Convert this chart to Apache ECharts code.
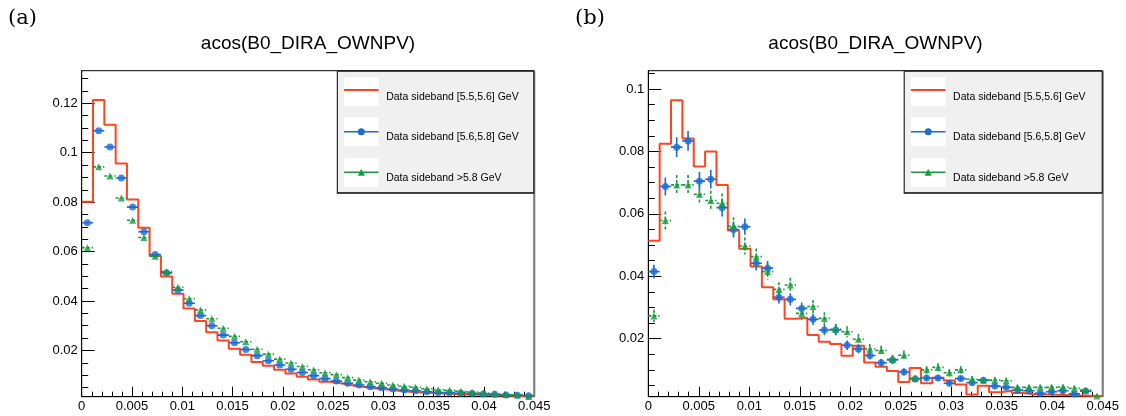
<!DOCTYPE html>
<html>
<head>
<meta charset="utf-8">
<script src="https://cdn.jsdelivr.net/npm/echarts@6/dist/echarts.min.js"></script>
<style>
html,body{margin:0;padding:0;background:#fff;}
#chart{width:1126px;height:416px;}
</style>
</head>
<body>
<div id="chart"></div>
<script>
// ---------------- data ----------------
const NBINS = 40;
const XMIN = 0;
const XMAX = 0.045;
const titleText = 'acos(B0_DIRA_OWNPV)';
const panelLabels = ['(a)', '(b)'];
const legendNames = ['Data sideband [5.5,5.6] GeV', 'Data sideband [5.6,5.8] GeV', 'Data sideband >5.8 GeV'];
const xTickStep = 0.005;
const yTicksA = [0.02, 0.04, 0.06, 0.08, 0.1, 0.12];
const yTicksB = [0.02, 0.04, 0.06, 0.08, 0.1];
const yRangeA = [0.00128, 0.1332];
const yRangeB = [0.0014, 0.1059];

// panel (a)
const redA = [0.0802, 0.1213, 0.1113, 0.0956, 0.0811, 0.0696, 0.0582, 0.0499, 0.0429, 0.0370,
              0.0319, 0.0274, 0.0240, 0.0207, 0.0183, 0.0153, 0.0138, 0.0122, 0.0107, 0.0094,
              0.0082, 0.0073, 0.0066, 0.0058, 0.0052, 0.0046, 0.0042, 0.0037, 0.0033, 0.0030,
              0.0028, 0.0026, 0.0024, 0.0022, 0.0021, 0.0019, 0.0018, 0.0017, 0.0016, 0.0015];
const blueA = [0.0717, 0.1089, 0.1023, 0.0898, 0.0780, 0.0680, 0.0588, 0.0514, 0.0444, 0.0391,
               0.0341, 0.0300, 0.0262, 0.0231, 0.0204, 0.0179, 0.0158, 0.0141, 0.0124, 0.0111,
               0.0098, 0.0086, 0.0076, 0.0067, 0.0060, 0.0053, 0.0049, 0.0044, 0.0040, 0.0037,
               0.0033, 0.0030, 0.0029, 0.0027, 0.0026, 0.0024, 0.0023, 0.0020, 0.0019, 0.0017];
const greenA = [0.0616, 0.0943, 0.0906, 0.0817, 0.0727, 0.0657, 0.0581, 0.0519, 0.0456, 0.0409,
                0.0364, 0.0328, 0.0290, 0.0257, 0.0235, 0.0205, 0.0185, 0.0165, 0.0149, 0.0135,
                0.0122, 0.0110, 0.0102, 0.0090, 0.0080, 0.0073, 0.0067, 0.0060, 0.0055, 0.0051,
                0.0045, 0.0041, 0.0039, 0.0035, 0.0032, 0.0028, 0.0025, 0.0022, 0.0020, 0.0014];

// panel (b)
const redB = [0.0514, 0.0825, 0.0964, 0.0842, 0.0752, 0.0800, 0.0693, 0.0547, 0.0488, 0.0431,
              0.0365, 0.0326, 0.0264, 0.0267, 0.0212, 0.0190, 0.0183, 0.0145, 0.0177, 0.0124,
              0.0110, 0.0096, 0.0061, 0.0106, 0.0057, 0.0075, 0.0066, 0.0053, 0.0021, 0.0049,
              0.0028, 0.0033, 0.0026, 0.0022, 0.0021, 0.0020, 0.0019, 0.0018, 0.0017, 0.0016];
const blueB = [0.0415, 0.0688, 0.0814, 0.0834, 0.0705, 0.0711, 0.0620, 0.0550, 0.0559, 0.0442,
               0.0426, 0.0333, 0.0326, 0.0297, 0.0262, 0.0228, 0.0228, 0.0179, 0.0167, 0.0146,
               0.0123, 0.0132, 0.0093, 0.0071, 0.0074, 0.0074, 0.0057, 0.0072, 0.0059, 0.0067,
               0.0048, 0.0044, 0.0035, 0.0033, 0.0025, 0.0030, 0.0033, 0.0023, 0.0032, 0.0009];
const blueErrB = [0.0022, 0.0029, 0.0032, 0.0032, 0.0029, 0.0030, 0.0028, 0.0026, 0.0026, 0.0023,
                  0.0023, 0.0020, 0.0020, 0.0019, 0.0018, 0.0017, 0.0017, 0.0015, 0.0014, 0.0013,
                  0.0012, 0.0013, 0.0011, 0.0009, 0.0010, 0.0010, 0.0008, 0.0009, 0.0008, 0.0009,
                  0.0008, 0.0007, 0.0007, 0.0006, 0.0006, 0.0006, 0.0006, 0.0005, 0.0006, 0.0003];
const greenB = [0.0273, 0.0579, 0.0693, 0.0693, 0.0663, 0.0643, 0.0634, 0.0560, 0.0497, 0.0463,
                0.0415, 0.0358, 0.0372, 0.0281, 0.0303, 0.0265, 0.0230, 0.0222, 0.0198, 0.0167,
                0.0162, 0.0134, 0.0147, 0.0073, 0.0100, 0.0108, 0.0091, 0.0100, 0.0070, 0.0067,
                0.0067, 0.0065, 0.0044, 0.0044, 0.0044, 0.0044, 0.0045, 0.0041, 0.0035, 0.0016];
const greenErrB = [0.0020, 0.0029, 0.0032, 0.0032, 0.0031, 0.0031, 0.0031, 0.0029, 0.0027, 0.0026,
                   0.0025, 0.0023, 0.0023, 0.0020, 0.0021, 0.0020, 0.0018, 0.0018, 0.0017, 0.0016,
                   0.0015, 0.0014, 0.0015, 0.0010, 0.0012, 0.0013, 0.0012, 0.0012, 0.0010, 0.0010,
                   0.0010, 0.0010, 0.0008, 0.0008, 0.0008, 0.0008, 0.0008, 0.0008, 0.0007, 0.0005];

// ---------------- styling / layout ----------------
const RED = '#ff4422', BLUE = '#1a6bd4', GREEN = '#169c3c';
const FONT = 'Liberation Sans';
const PANELS = [
  {left: 81.7, top: 70.7, right: 534.3, bottom: 396.7, legLeft: 336.8, labelX: 8},
  {left: 648.3, top: 70.7, right: 1102.7, bottom: 396.7, legLeft: 903.7, labelX: 575}
];
const BINW = (XMAX - XMIN) / NBINS;

function stepData(vals) {
  const d = vals.map((v, i) => [XMIN + i * BINW, v]);
  d.push([XMAX, vals[vals.length - 1]]);
  return d;
}
function pointData(vals, errs) {
  return vals.map((v, i) => [XMIN + (i + 0.5) * BINW, v, errs ? errs[i] : 0]);
}
function minorTicks(maxV) {
  const out = [];
  for (let k = 1; k * 0.005 < maxV; k++) out.push(+(k * 0.005).toFixed(3));
  return out;
}
function errRender(color, dash) {
  return function (params, api) {
    const x = api.value(0), v = api.value(1), e = api.value(2);
    const c = api.coord([x, v]);
    const l = api.coord([x - BINW / 2, v]);
    const r = api.coord([x + BINW / 2, v]);
    const st = {stroke: color, lineWidth: 1.6, lineDash: dash};
    const ch = [{type: 'line', shape: {x1: l[0], y1: c[1], x2: r[0], y2: c[1]}, style: st}];
    if (e > 0) {
      const t = api.coord([x, v + e]), b = api.coord([x, v - e]);
      ch.push({type: 'line', shape: {x1: c[0], y1: t[1], x2: c[0], y2: b[1]}, style: st});
    }
    return {type: 'group', children: ch};
  };
}

const grids = PANELS.map(p => ({
  left: p.left, top: p.top, width: p.right - p.left, height: p.bottom - p.top,
  show: true, borderColor: '#000', borderWidth: 1, backgroundColor: 'transparent',
  containLabel: false
}));

const xAxes = PANELS.map((p, gi) => ({
  type: 'value', gridIndex: gi, min: XMIN, max: XMAX, interval: xTickStep,
  axisLine: {show: true, onZero: false, lineStyle: {color: '#000', width: 1}},
  axisTick: {show: true, inside: true, length: 10, lineStyle: {color: '#000', width: 1}},
  minorTick: {show: true, splitNumber: 5, length: 5, lineStyle: {color: '#000', width: 1}},
  splitLine: {show: false}, minorSplitLine: {show: false},
  axisLabel: {show: true, fontSize: 13, fontFamily: FONT, color: '#000', margin: 3,
    showMinLabel: true, showMaxLabel: true,
    formatter: v => String(+v.toFixed(4))}
}));

function yAxesFor(gi, range, ticks) {
  return [
    {
      type: 'value', gridIndex: gi, min: range[0], max: range[1],
      axisLine: {show: true, onZero: false, lineStyle: {color: '#000', width: 1}},
      axisTick: {show: true, inside: true, length: 13, customValues: ticks, lineStyle: {color: '#000', width: 1}},
      splitLine: {show: false},
      axisLabel: {show: true, customValues: ticks, fontSize: 13, fontFamily: FONT, color: '#000', margin: 4,
        formatter: v => String(+v.toFixed(4))}
    },
    {
      type: 'value', gridIndex: gi, min: range[0], max: range[1], position: 'left',
      axisLine: {show: false},
      axisTick: {show: true, inside: true, length: 6.5, customValues: minorTicks(range[1]), lineStyle: {color: '#000', width: 1}},
      splitLine: {show: false},
      axisLabel: {show: false}
    }
  ];
}
const yAxes = [].concat(yAxesFor(0, yRangeA, yTicksA), yAxesFor(1, yRangeB, yTicksB));

function panelSeries(gi, red, blue, blueErr, green, greenErr) {
  const xi = gi, yi = gi * 2;
  return [
    {type: 'line', xAxisIndex: xi, yAxisIndex: yi, step: 'end', data: stepData(red), symbol: 'none',
      lineStyle: {color: RED, width: 2}, clip: true, z: 2, silent: true, animation: false},
    {type: 'custom', xAxisIndex: xi, yAxisIndex: yi, data: pointData(blue, blueErr), clip: true,
      renderItem: errRender(BLUE, null), z: 3, silent: true, animation: false,
      encode: {x: 0, y: 1}},
    {type: 'scatter', xAxisIndex: xi, yAxisIndex: yi, data: pointData(blue, null).map(d => [d[0], d[1]]),
      symbol: 'circle', symbolSize: 7, itemStyle: {color: BLUE}, clip: true, z: 4, silent: true, animation: false},
    {type: 'custom', xAxisIndex: xi, yAxisIndex: yi, data: pointData(green, greenErr), clip: true,
      renderItem: errRender(GREEN, [3, 2]), z: 5, silent: true, animation: false,
      encode: {x: 0, y: 1}},
    {type: 'scatter', xAxisIndex: xi, yAxisIndex: yi, data: pointData(green, null).map(d => [d[0], d[1]]),
      symbol: 'triangle', symbolSize: 7, itemStyle: {color: GREEN}, clip: true, z: 6, silent: true, animation: false}
  ];
}
const series = [].concat(
  panelSeries(0, redA, blueA, null, greenA, null),
  panelSeries(1, redB, blueB, blueErrB, greenB, greenErrB)
);

// ---------------- decorations (titles, legends, labels) ----------------
const graphics = [];
PANELS.forEach((p, i) => {
  // panel label
  graphics.push({type: 'text', z: 50, style: {text: panelLabels[i], x: p.labelX, y: 19,
    textVerticalAlign: 'middle', textAlign: 'left', font: '21px "DejaVu Serif"', fill: '#000'}});
  // title
  graphics.push({type: 'text', z: 50, style: {text: titleText, x: (p.left + p.right) / 2, y: 44,
    textAlign: 'center', textVerticalAlign: 'middle', font: '19px "' + FONT + '"', fill: '#000'}});
  // grey right frame edge
  graphics.push({type: 'line', z: 40, shape: {x1: p.right, y1: p.top, x2: p.right, y2: p.bottom},
    style: {stroke: '#7a7a7a', lineWidth: 2}});
  // legend box
  const L = p.legLeft, T = p.top, W = p.right - L, H = 121.6;
  graphics.push({type: 'rect', z: 60, shape: {x: L, y: T + H, width: W, height: 1.5},
    style: {fill: '#333'}});
  graphics.push({type: 'rect', z: 61, shape: {x: L + 0.5, y: T + 0.5, width: W - 1, height: H},
    style: {fill: '#f0f0f0', stroke: '#000', lineWidth: 1}});
  const boxTops = [77.3, 117.3, 158.3];
  const symY = [90, 131.7, 172.3];
  const txtY = [96.7, 136.7, 178.3];
  const cols = [RED, BLUE, GREEN];
  for (let k = 0; k < 3; k++) {
    const bx = L + 7.2, bw = 34.6;
    graphics.push({type: 'rect', z: 62, shape: {x: bx, y: boxTops[k], width: bw, height: 28.7},
      style: {fill: '#fff'}});
    graphics.push({type: 'line', z: 63, shape: {x1: bx, y1: symY[k], x2: bx + bw, y2: symY[k]},
      style: {stroke: cols[k], lineWidth: k === 0 ? 2 : 1.6}});
    if (k === 1) {
      graphics.push({type: 'circle', z: 64, shape: {cx: bx + bw / 2, cy: symY[k], r: 3.5},
        style: {fill: BLUE}});
    }
    if (k === 2) {
      const cx = bx + bw / 2, cy = symY[k];
      graphics.push({type: 'polygon', z: 64, shape: {points: [[cx, cy - 3.5], [cx + 3.5, cy + 3.5], [cx - 3.5, cy + 3.5]]},
        style: {fill: GREEN}});
    }
    graphics.push({type: 'text', z: 64, style: {text: legendNames[k], x: L + 49.4, y: txtY[k],
      textAlign: 'left', textVerticalAlign: 'middle', font: '10.5px "' + FONT + '"', fill: '#000'}});
  }
});

const chart = echarts.init(document.getElementById('chart'), null, {renderer: 'canvas'});
chart.setOption({
  animation: false,
  backgroundColor: '#fff',
  grid: grids,
  xAxis: xAxes,
  yAxis: yAxes,
  series: series,
  graphic: graphics
});
</script>
</body>
</html>
